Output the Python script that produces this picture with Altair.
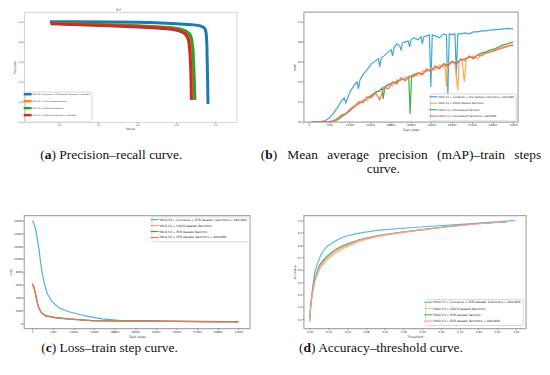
import altair as alt
import pandas as pd

SERIES = [
    "YOLO V3 + 4 outputs + PCB dataset 12anchors + bbox800",
    "YOLO V3 + COCO dataset 9anchors",
    "YOLO V3 + PCB dataset 9anchor",
    "YOLO V3 + PCB dataset 9anchors + bbox800",
]
COL_A = ["#1f77b4", "#ff7f0e", "#2ca02c", "#d62728"]
COL_B = ["#3ea6dc", "#ffa94d", "#3db54a", "#ff6b6b"]
COL_C = ["#4fb0e0", "#f5a15a", "#3a9e5f", "#f0765a"]
COL_D = ["#5cb8e4", "#ffc27a", "#3db36a", "#ff9d9d"]

# ---- (a) precision-recall: (recall, precision)
pr_blue = [(0.152, 1.0), (0.3, 1.0), (0.45, 0.999), (0.6, 0.995), (0.7, 0.99), (0.8, 0.982),
           (0.88, 0.972), (0.92, 0.962), (0.94, 0.948), (0.95, 0.925), (0.955, 0.88), (0.958, 0.78),
           (0.96, 0.6), (0.962, 0.42), (0.963, 0.3), (0.964, 0.18)]
pr_orange = [(0.16, 0.986), (0.3, 0.975), (0.45, 0.965), (0.6, 0.955), (0.7, 0.945), (0.78, 0.932),
             (0.82, 0.918), (0.845, 0.9), (0.862, 0.87), (0.872, 0.82), (0.878, 0.72), (0.882, 0.55),
             (0.885, 0.4), (0.887, 0.28), (0.888, 0.22)]
pr_green = [(0.16, 0.988), (0.3, 0.98), (0.45, 0.972), (0.6, 0.962), (0.7, 0.952), (0.78, 0.94),
            (0.82, 0.928), (0.85, 0.91), (0.87, 0.88), (0.88, 0.83), (0.887, 0.72), (0.891, 0.55),
            (0.894, 0.4), (0.896, 0.28), (0.897, 0.22)]
pr_red = [(0.155, 0.98), (0.3, 0.97), (0.45, 0.96), (0.6, 0.948), (0.7, 0.938), (0.78, 0.925),
          (0.815, 0.91), (0.84, 0.89), (0.855, 0.86), (0.865, 0.81), (0.871, 0.7), (0.875, 0.55),
          (0.877, 0.4), (0.878, 0.28), (0.879, 0.22)]

# ---- (b) mAP vs train steps: (step, mAP)
map_blue = [(1000, 0.0), (2500, 0.0), (4000, 0.003), (5500, 0.01), (7000, 0.035), (8500, 0.08),
            (10000, 0.14), (11500, 0.21), (12500, 0.24), (13000, 0.19), (14500, 0.30), (16000, 0.37),
            (17000, 0.40), (17500, 0.33), (18000, 0.42), (19000, 0.47), (20500, 0.52), (22000, 0.58),
            (23500, 0.61), (24500, 0.63), (25000, 0.55), (25500, 0.64), (26500, 0.66), (28000, 0.70),
            (29000, 0.72), (29500, 0.66), (30000, 0.74), (31000, 0.78), (32000, 0.76), (32500, 0.72),
            (33000, 0.79), (34000, 0.80), (35000, 0.81), (35500, 0.75), (36000, 0.82), (37000, 0.84),
            (38500, 0.82), (39500, 0.85), (40000, 0.78), (40500, 0.85), (41500, 0.86), (42500, 0.87),
            (43000, 0.35), (43500, 0.87), (44500, 0.86), (46000, 0.84), (47500, 0.88), (48500, 0.87),
            (49000, 0.28), (49500, 0.88), (50500, 0.87), (51500, 0.88), (52000, 0.47), (52500, 0.88),
            (53500, 0.88), (55000, 0.89), (56500, 0.88), (58000, 0.90), (59500, 0.90), (61000, 0.91),
            (62500, 0.91), (64000, 0.92), (65500, 0.92), (67000, 0.925), (68500, 0.93), (70000, 0.935),
            (72000, 0.93)]
map_orange = [(1000, 0), (4000, 0), (7000, 0.002), (8500, 0.008), (10000, 0.025), (11500, 0.055),
              (13000, 0.085), (14500, 0.12), (16000, 0.16), (17500, 0.17), (19000, 0.22), (20500, 0.21),
              (22000, 0.27), (23500, 0.28), (25000, 0.32), (26500, 0.33), (28000, 0.38), (29500, 0.36),
              (31000, 0.42), (32500, 0.41), (34000, 0.45), (35500, 0.44), (37000, 0.48), (38500, 0.46),
              (40000, 0.51), (41500, 0.50), (43000, 0.54), (44500, 0.52), (46000, 0.57), (47500, 0.55),
              (48000, 0.58), (48500, 0.35), (49000, 0.59), (50500, 0.60), (51500, 0.58), (52500, 0.32),
              (53000, 0.61), (54000, 0.62), (54800, 0.40), (55500, 0.63), (56500, 0.64), (58000, 0.66),
              (59500, 0.63), (61000, 0.68), (62500, 0.69), (64000, 0.70), (65500, 0.72), (67000, 0.73),
              (68500, 0.75), (70000, 0.76), (72000, 0.775)]
map_green = [(1000, 0), (4000, 0), (7000, 0.001), (8500, 0.006), (10000, 0.02), (11500, 0.05),
             (13000, 0.08), (14500, 0.11), (16000, 0.15), (17500, 0.19), (19000, 0.20), (20500, 0.24),
             (22000, 0.26), (23500, 0.30), (25000, 0.31), (25800, 0.34), (26200, 0.23), (26800, 0.35),
             (28000, 0.37), (29500, 0.39), (31000, 0.40), (32500, 0.43), (34000, 0.42), (35200, 0.45),
             (35700, 0.08), (36200, 0.46), (37000, 0.47), (38500, 0.49), (40000, 0.48), (41500, 0.52),
             (43000, 0.51), (44500, 0.55), (46000, 0.54), (47500, 0.58), (49000, 0.57), (50500, 0.60),
             (52000, 0.59), (53500, 0.62), (55000, 0.63), (56500, 0.65), (58000, 0.64), (59500, 0.67),
             (61000, 0.69), (62500, 0.70), (64000, 0.72), (65500, 0.73), (67000, 0.75), (68500, 0.77),
             (70000, 0.78), (72000, 0.80)]
map_red = [(1000, 0), (4000, 0), (7000, 0.003), (8500, 0.012), (10000, 0.035), (11500, 0.07),
           (13000, 0.08), (14500, 0.13), (16000, 0.15), (17500, 0.20), (19000, 0.19), (20500, 0.25),
           (22000, 0.24), (23500, 0.29), (25000, 0.22), (26500, 0.35), (28000, 0.33), (29500, 0.40),
           (31000, 0.38), (32500, 0.44), (34000, 0.41), (35500, 0.46), (37000, 0.45), (38500, 0.49),
           (40000, 0.47), (41500, 0.53), (43000, 0.50), (44500, 0.56), (46000, 0.53), (47500, 0.58),
           (49000, 0.55), (50500, 0.61), (52000, 0.57), (53500, 0.63), (55000, 0.61), (56500, 0.66),
           (58000, 0.63), (59500, 0.67), (61000, 0.66), (62500, 0.69), (64000, 0.70), (65500, 0.71),
           (67000, 0.73), (68500, 0.74), (70000, 0.755), (72000, 0.765)]

# ---- (c) loss vs train steps: (step, loss)
loss_blue = [(1, 15950), (240, 15890), (1150, 14700), (2330, 11600), (3230, 8510), (4070, 6450),
             (5220, 4640), (6960, 3360), (9280, 2430), (12770, 1810), (18540, 1150), (24350, 700),
             (30160, 470), (36000, 420), (42000, 390), (48000, 360), (54000, 330), (60000, 300),
             (66000, 280), (72000, 260)]
loss_orange = [(1, 6190), (590, 5680), (1150, 4640), (1740, 3360), (2330, 2430), (3230, 1660),
               (4630, 1190), (8100, 880), (12770, 680), (20870, 420), (28000, 380), (36000, 350),
               (42000, 330), (48000, 310), (54000, 290), (60000, 270), (66000, 250), (72000, 240)]
loss_green = [(1, 6100), (590, 5600), (1150, 4550), (1740, 3300), (2330, 2400), (3230, 1650),
              (4630, 1200), (8100, 900), (12770, 700), (20870, 440), (28000, 390), (36000, 360),
              (42000, 340), (48000, 320), (54000, 300), (60000, 280), (66000, 260), (72000, 250)]
loss_red = [(1, 6150), (590, 5650), (1150, 4600), (1740, 3330), (2330, 2420), (3230, 1640),
            (4630, 1170), (8100, 860), (12770, 660), (20870, 410), (28000, 370), (36000, 340),
            (42000, 320), (48000, 300), (54000, 280), (60000, 260), (66000, 245), (72000, 235)]

# ---- (d) accuracy vs threshold: (threshold, accuracy)
acc_blue = [(0.01, 0.18), (0.012, 0.27), (0.014, 0.31), (0.018, 0.38), (0.026, 0.49), (0.034, 0.58),
            (0.046, 0.65), (0.058, 0.70), (0.074, 0.75), (0.09, 0.785), (0.13, 0.83), (0.17, 0.865),
            (0.234, 0.892), (0.33, 0.919), (0.489, 0.94), (0.649, 0.958), (0.808, 0.975),
            (0.968, 0.995), (0.997, 1.0)]
acc_orange = [(0.01, 0.20), (0.014, 0.28), (0.018, 0.345), (0.026, 0.43), (0.034, 0.50), (0.046, 0.56),
              (0.058, 0.605), (0.09, 0.675), (0.13, 0.73), (0.17, 0.77), (0.25, 0.83), (0.33, 0.865),
              (0.41, 0.89), (0.489, 0.908), (0.649, 0.943), (0.808, 0.97), (0.96, 0.99)]
acc_green = [(0.01, 0.21), (0.014, 0.30), (0.018, 0.37), (0.026, 0.46), (0.034, 0.53), (0.046, 0.59),
             (0.058, 0.64), (0.09, 0.705), (0.13, 0.76), (0.17, 0.795), (0.25, 0.845), (0.33, 0.875),
             (0.41, 0.895), (0.489, 0.912), (0.649, 0.946), (0.808, 0.972), (0.96, 0.99)]
acc_red = [(0.01, 0.22), (0.014, 0.30), (0.018, 0.36), (0.026, 0.445), (0.034, 0.515), (0.046, 0.575),
           (0.058, 0.62), (0.09, 0.69), (0.13, 0.745), (0.17, 0.783), (0.25, 0.838), (0.33, 0.87),
           (0.41, 0.892), (0.489, 0.91), (0.649, 0.944), (0.808, 0.97), (0.96, 0.99)]

STEP_TICKS = [1, 7201, 14401, 21601, 28801, 36001, 43201, 50401, 57601, 64801, 72001]
UNIT_TICKS = [0.0, 0.2, 0.4, 0.6, 0.8, 1.0]
LOSS_TICKS = [0, 2000, 4000, 6000, 8000, 10000, 12000, 14000, 16000]
ACC_TICKS = [0.2, 0.3, 0.4, 0.5, 0.6, 0.7, 0.8, 0.9, 1.0]
THR_TICKS = [0.01, 0.10, 0.19, 0.28, 0.37, 0.46, 0.55, 0.64, 0.73, 0.82, 0.91, 1.00]

# justified first caption line of (b): words and their left offsets (px from panel b's plot left)
CAP_B_WORDS = ["Mean", "average", "precision", "(mAP)\u2013train", "steps"]
CAP_B_X = [-16.4, 23.7, 75.1, 133.9, 211.5]

SERIF = "Liberation Serif"
SANS = "DejaVu Sans"
CAP_SIZE = 13.5
LINE_SYMBOL = "M-4,0H4"
THIN_SYMBOL = "M-16,0H16"


def frame(pairs, name, xname, yname):
    return pd.DataFrame({xname: [p[0] for p in pairs], yname: [p[1] for p in pairs],
                         "i": list(range(len(pairs))), "s": name})


def lines(groups, xname, yname, xdom, ydom, xaxis, yaxis, colors, legend, width, join=None):
    mark_kw = {"clip": True}
    if join:
        mark_kw["strokeJoin"] = join
    layers = []
    for pairs, name in zip(groups, SERIES):
        df = frame(pairs, name, xname, yname)
        layers.append(
            alt.Chart(df).mark_line(**mark_kw).encode(
                x=alt.X(f"{xname}:Q", scale=alt.Scale(domain=xdom, nice=False, zero=False), axis=xaxis),
                y=alt.Y(f"{yname}:Q", scale=alt.Scale(domain=ydom, nice=False, zero=False), axis=yaxis),
                color=alt.Color("s:N", scale=alt.Scale(domain=SERIES, range=colors), legend=legend),
                strokeWidth=alt.value(width),
                order="i:Q",
            )
        )
    return layers


def text_layer(txt, x, y, size, font=SERIF, weight="normal", align="left", color="#111"):
    return alt.Chart(pd.DataFrame({"t": [txt]})).mark_text(
        align=align, baseline="alphabetic", font=font, fontSize=size, fontWeight=weight, color=color
    ).encode(text="t:N", x=alt.value(x), y=alt.value(y))


def caption(letter, rest, x, y, letter_w):
    paren_w = 0.333 * CAP_SIZE
    return [
        text_layer("(", x, y, CAP_SIZE),
        text_layer(letter, x + paren_w, y, CAP_SIZE, weight="bold"),
        text_layer(")" + rest, x + paren_w + letter_w, y, CAP_SIZE),
    ]


def axis(title, values, fmt, lsize=2.8, tsize=3.2, tick=1.5, tpad=1):
    return alt.Axis(title=title, values=values, format=fmt, labelFontSize=lsize, titleFontSize=tsize,
                    tickSize=tick, labelPadding=0.5, titlePadding=tpad, domain=False, grid=False,
                    labelFlush=False, labelOverlap=False, labelColor="#333", titleColor="#333",
                    tickColor="#666", tickWidth=0.6, titleFontWeight="normal", labelFont=SANS,
                    titleFont=SANS)


def legend(orient, lsize, swidth, row_pad, offset=1, symbol=LINE_SYMBOL, ssize=4):
    return alt.Legend(title=None, orient=orient, offset=offset, labelFontSize=lsize, labelFont=SANS,
                      symbolType=symbol, symbolStrokeWidth=swidth, symbolSize=ssize, rowPadding=row_pad,
                      padding=1.2, fillColor="white", strokeColor="#d8d8d8", cornerRadius=1,
                      labelLimit=300, labelOffset=2.5, labelColor="#222")


# ---- panel a
layers_a = lines([pr_blue, pr_orange, pr_green, pr_red], "recall", "precision", [0.019, 1.11], [0, 1.1],
                 axis("Recall", UNIT_TICKS, ".1f", 2.5, 3.0), axis("Precision", UNIT_TICKS, ".1f", 2.5, 3.0),
                 COL_A, legend("bottom-left", 2.0, 2.4, -6.5, 1, THIN_SYMBOL, 0.25), 3, join="round")
layers_a += [text_layer("R-P", 95, -0.5, 3.2, font=SANS, align="center", color="#333")]
layers_a += caption("a", " Precision\u2013recall curve.", 16.3, 147.5, 0.5 * CAP_SIZE)
panel_a = alt.layer(*layers_a).properties(width=213.3, height=110.5,
                                          view=alt.ViewBackground(stroke="#d4d4d4", strokeWidth=1))

# ---- panel b
layers_b = lines([map_blue, map_orange, map_green, map_red], "step", "map", [-1860, 73650], [0, 1.1],
                 axis("Train steps", STEP_TICKS, "d"), axis("mAP", UNIT_TICKS, ".1f"),
                 COL_B, legend("bottom-right", 2.6, 1.2, 0.5, 2), 1.2)
layers_b += caption("b", "", -43, 147.5, 0.556 * CAP_SIZE)
layers_b += [text_layer(w, x, 147.5, CAP_SIZE) for w, x in zip(CAP_B_WORDS, CAP_B_X)]
layers_b += [text_layer("curve.", 80, 161.5, CAP_SIZE, align="center")]
panel_b = alt.layer(*layers_b).properties(width=215, height=110.5,
                                          view=alt.ViewBackground(stroke="#a8a8a8", strokeWidth=1.2))

# ---- panel c
layers_c = lines([loss_blue, loss_orange, loss_green, loss_red], "step", "loss", [-2887, 75930], [-774, 16774],
                 axis("Train steps", STEP_TICKS, "d"), axis("Loss", LOSS_TICKS, "d", tick=1.2, tpad=0.5),
                 COL_C, legend("top-right", 3.0, 1.2, 0.0, 1), 1.2)
layers_c += caption("c", " Loss\u2013train step curve.", 17.3, 136.7, 0.444 * CAP_SIZE)
panel_c = alt.layer(*layers_c).properties(width=226.6, height=113.4,
                                          view=alt.ViewBackground(stroke="#a8a8a8", strokeWidth=1.2))

# ---- panel d
layers_d = lines([acc_blue, acc_orange, acc_green, acc_red], "thr", "acc", [-0.02, 1.048], [0.126, 1.04],
                 axis("Threshold", THR_TICKS, ".2f"), axis("Accuracy", ACC_TICKS, ".1f"),
                 COL_D, legend("bottom-right", 3.0, 1.2, 0.3, 3), 1.2)
layers_d += caption("d", " Accuracy\u2013threshold curve.", -4.5, 136.7, 0.556 * CAP_SIZE)
panel_d = alt.layer(*layers_d).properties(width=223, height=113.4,
                                          view=alt.ViewBackground(stroke="#a8a8a8", strokeWidth=1.2))

chart = (
    alt.concat(panel_a, panel_b, panel_c, panel_d, columns=2,
               spacing=alt.RowColnumber(row=93.3, column=53.7), bounds="flush")
    .resolve_scale(color="independent")
    .properties(padding={"left": 0, "top": -0.8, "right": 0, "bottom": 0}, background="white")
    .configure(font=SANS)
)

chart.save("out.html", embed_options={"renderer": "svg", "actions": False})
